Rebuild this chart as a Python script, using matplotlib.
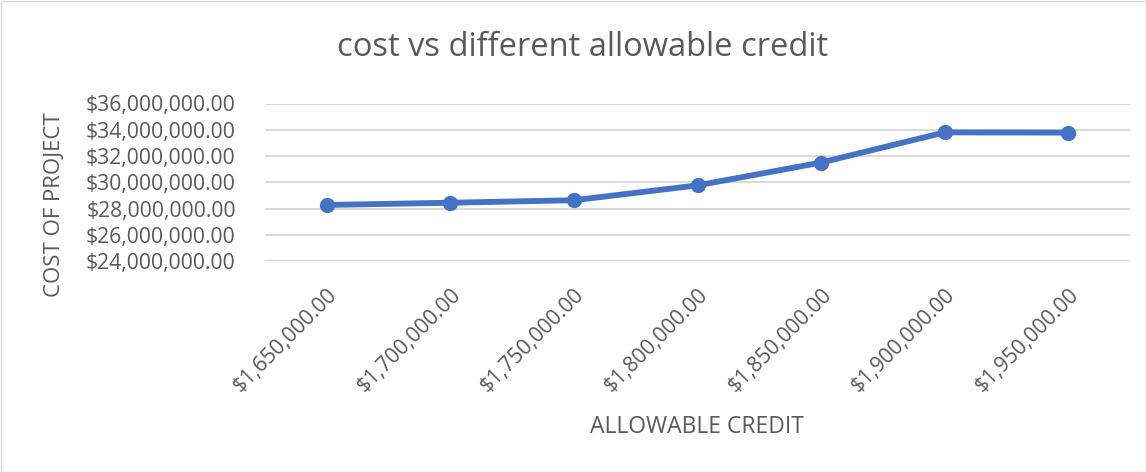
import matplotlib
matplotlib.use("Agg")
import matplotlib.pyplot as plt
from matplotlib.patches import Rectangle
from matplotlib.ticker import FuncFormatter

# data
credit_labels = ["$1,650,000.00", "$1,700,000.00", "$1,750,000.00", "$1,800,000.00",
                 "$1,850,000.00", "$1,900,000.00", "$1,950,000.00"]
project_cost = [28270000, 28440000, 28630000, 29760000, 31500000, 33800000, 33780000]
y_ticks = [24e6, 26e6, 28e6, 30e6, 32e6, 34e6, 36e6]

txt = "#595959"
blue = "#4472C4"
plt.rcParams["font.family"] = ["Open Sans", "DejaVu Sans"]

fig = plt.figure(figsize=[11.46, 4.72], dpi=100)
ax = fig.add_axes([265/1146, 1-261/472, (1130-265)/1146, (261-103.5)/472])

x = list(range(len(credit_labels)))
ax.plot(x, project_cost, color=blue, lw=4.2, marker="o", ms=10, solid_capstyle="round",
        solid_joinstyle="round", zorder=3)

ax.set_xlim(-0.5, len(credit_labels)-0.5)
ax.set_ylim(24e6, 36e6)
ax.set_yticks(y_ticks)
ax.yaxis.set_major_formatter(FuncFormatter(lambda v, p: "${:,.2f}".format(v)))
ax.set_xticks(x)
ax.set_xticklabels(credit_labels, rotation=45, ha="right", rotation_mode="anchor")
ax.tick_params(axis="both", length=0, labelsize=15.2, colors=txt)
ax.tick_params(axis="x", pad=17)
ax.tick_params(axis="y", pad=21)
ax.grid(axis="y", color="#D9D9D9", lw=1.4)
ax.set_axisbelow(True)
for s in ax.spines.values():
    s.set_visible(False)

ax.set_xlabel("ALLOWABLE CREDIT", fontsize=16.5, color=txt, va="center")
ax.xaxis.set_label_coords((697-265)/865, (261-427)/157.5)
ax.set_ylabel("COST OF PROJECT", fontsize=16, color=txt, va="center")
ax.yaxis.set_label_coords((55-265)/865, (261-205)/157.5)
fig.text(583/1146, 1-48/472, "cost vs different allowable credit", fontsize=23.5, color=txt,
         ha="center", va="center")

fig.add_artist(Rectangle((0.5/1146, 0.5/472), 1-1/1146, 1-1/472, transform=fig.transFigure,
                         fill=False, edgecolor="#D9D9D9", lw=1))

fig.savefig("out.png", dpi=100)
